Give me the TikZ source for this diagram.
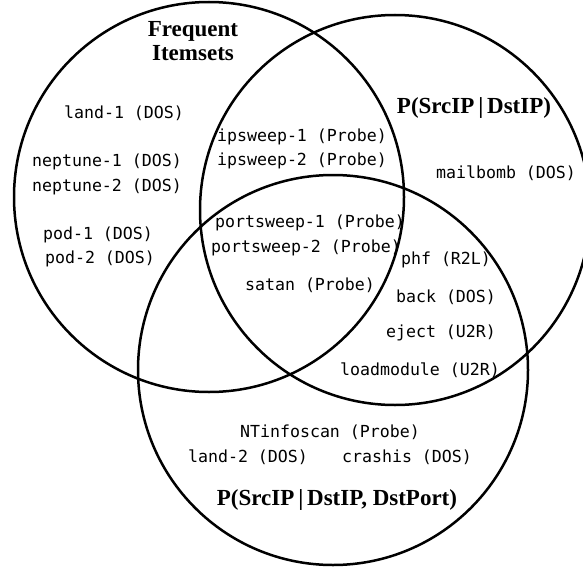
\documentclass[tikz,border=0pt]{standalone}
\usepackage{fontspec}
\setmainfont{Liberation Serif}
\setmonofont{DejaVu Sans Mono}
\tikzset{vc/.append style={draw,circle,line width=2.5pt,inner sep=0pt,minimum size=390pt}}
\tikzset{it/.append style={inner sep=0pt,font=\ttfamily\fontsize{16.6}{18}\selectfont}}
\tikzset{ttl/.append style={inner sep=0pt,align=center,font=\bfseries\fontsize{23}{24}\selectfont}}

\begin{document}
\begin{tikzpicture}[x=1pt,y=-1pt]
                \useasboundingbox (0,0) rectangle (583,567);
                % the three sets
                \node[vc] (fi) at (209,197) {};
                \node[vc] (pd) at (395,210) {};
                \node[vc] (pdp) at (333,370) {};
                % titles
                \node[ttl] (tfi) at (193,41) {Frequent\\Itemsets};
                \node[ttl] (tpd) at (474,108) {P(SrcIP\,|\,DstIP)};
                \node[ttl] (tpdp) at (337,500) {P(SrcIP\,|\,DstIP, DstPort)};
                % frequent itemsets only
                \node[it] (land1) at (124,113) {land-1 (DOS)};
                \node[it] (nep1) at (107,162) {neptune-1 (DOS)};
                \node[it] (nep2) at (107,187) {neptune-2 (DOS)};
                \node[it] (pod1) at (98,235) {pod-1 (DOS)};
                \node[it] (pod2) at (100,259) {pod-2 (DOS)};
                % frequent itemsets and P(SrcIP|DstIP)
                \node[it] (ips1) at (302,137) {ipsweep-1 (Probe)};
                \node[it] (ips2) at (302,161) {ipsweep-2 (Probe)};
                % all three
                \node[it] (ps1) at (310,223) {portsweep-1 (Probe)};
                \node[it] (ps2) at (306,248) {portsweep-2 (Probe)};
                \node[it] (sat) at (310,285) {satan (Probe)};
                % P(SrcIP|DstIP) only
                \node[it] (mb) at (506,173) {mailbomb (DOS)};
                % both P sets
                \node[it] (phf) at (446,260) {phf (R2L)};
                \node[it] (back) at (446,297) {back (DOS)};
                \node[it] (ej) at (441,333) {eject (U2R)};
                \node[it] (lm) at (420,370) {loadmodule (U2R)};
                % P(SrcIP|DstIP,DstPort) only
                \node[it] (nti) at (330,432) {NTinfoscan (Probe)};
                \node[it] (land2) at (248,457) {land-2 (DOS)};
                \node[it] (crash) at (407,457) {crashis (DOS)};
            \end{tikzpicture}
\end{document}
